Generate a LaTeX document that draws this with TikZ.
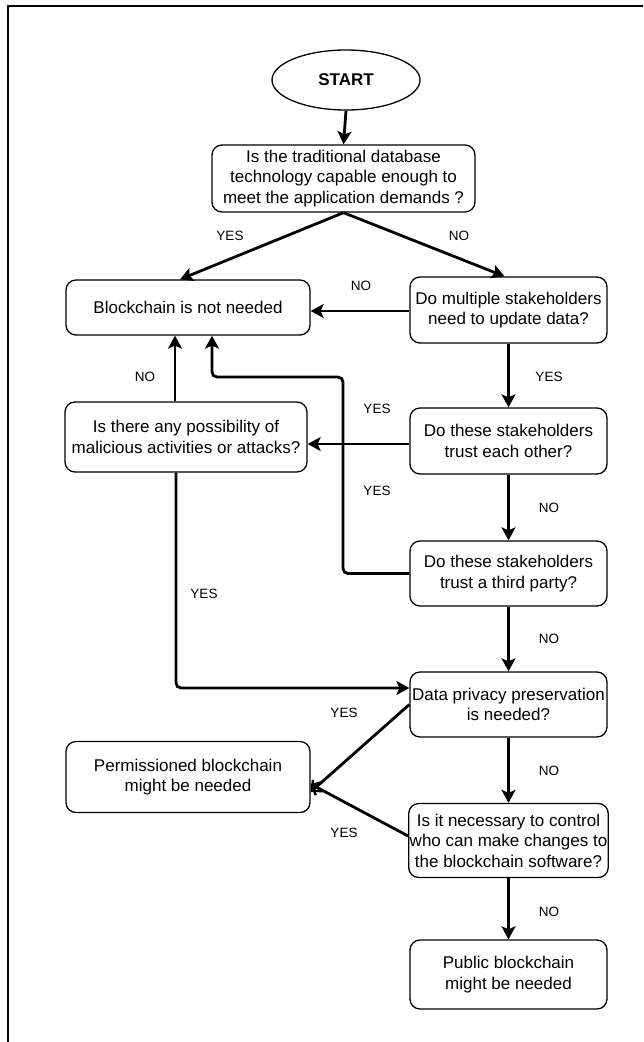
\documentclass[tikz,border=0pt]{standalone}
\usepackage{fontspec}
\setmainfont{Liberation Sans}
\usetikzlibrary{arrows.meta,shapes.geometric}

\tikzset{
  box/.style={draw, line width=1.3pt, rounded corners=10pt, align=center,
    inner sep=1pt, font=\fontsize{17}{20.5}\selectfont},
  startnode/.style={draw, ellipse, line width=1.3pt, inner sep=0pt,
    minimum width=148pt, minimum height=60pt,
    font=\fontsize{17}{20.5}\selectfont\bfseries},
  conn/.style={line width=2.8pt, -{Stealth[length=13pt,width=14pt,inset=3pt]}},
  barb/.style={line width=2.8pt, -{Straight Barb[length=8pt,width=15pt,line width=2.4pt]}},
  lbl/.style={font=\fontsize{13.5}{16}\selectfont, inner sep=0pt},
  frameline/.style={line width=2pt}
}

\begin{document}
\begin{tikzpicture}[x=1pt,y=-1pt]
  \useasboundingbox (0,0) rectangle (643,1042);

  % open frame: top and left edges only
  \coordinate (fa) at (643,6);
  \coordinate (fb) at (8,6);
  \coordinate (fc) at (8,1042);
  \draw[frameline] (fa) -- (fb) -- (fc);

  % nodes
  \node[startnode] (start) at (346,80) {START};
  \node[box, minimum width=263pt, minimum height=67pt] (q1) at (343.5,178.5)
    {Is the traditional database\\technology capable enough to\\meet the application demands ?};
  \node[box, minimum width=244pt, minimum height=55pt] (nn) at (188,307.5)
    {Blockchain is not needed};
  \node[box, minimum width=197pt, minimum height=66pt] (multi) at (508.5,310)
    {Do multiple stakeholders\\need to update data?};
  \node[box, minimum width=242pt, minimum height=70pt] (mal) at (186,437)
    {Is there any possibility of\\malicious activities or attacks?};
  \node[box, minimum width=197pt, minimum height=66pt] (trust) at (508.5,441)
    {Do these stakeholders\\trust each other?};
  \node[box, minimum width=197pt, minimum height=65pt] (third) at (508.5,573.5)
    {Do these stakeholders\\trust a third party?};
  \node[box, minimum width=197pt, minimum height=65pt] (priv) at (508.5,704.5)
    {Data privacy preservation\\is needed?};
  \node[box, minimum width=244pt, minimum height=71pt] (perm) at (188,777)
    {Permissioned blockchain\\might be needed};
  \node[box, minimum width=197pt, minimum height=74pt] (ctrl) at (508.5,840.5)
    {Is it necessary to control\\who can make changes to\\the blockchain software?};
  \node[box, minimum width=197pt, minimum height=69pt] (pub) at (508.5,974.5)
    {Public blockchain\\might be needed};

  % connectors
  \draw[conn] (start.south) -- (q1.north);
  \draw[conn] (q1.south) -- ([xshift=-8pt]nn.north);
  \draw[conn] (q1.south) -- ([xshift=-4pt]multi.north);
  \draw[conn] ([yshift=-1pt]multi.west) -- ([yshift=-1pt]multi.west -| nn.east);
  \draw[conn] (multi.south) -- (trust.north);
  \draw[conn] ([yshift=-3pt]trust.west) -- ([yshift=-3pt]trust.west -| mal.east);
  \draw[conn] ([xshift=-11pt]mal.north) -- ([xshift=-11pt]mal.north |- nn.south);
  \coordinate (tp1) at (343,573.5);
  \coordinate (tp2) at (343,377);
  \coordinate (tp3) at (212,377);
  \draw[conn, rounded corners=5pt] (third.west) -- (tp1) -- (tp2) -- (tp3) -- (tp3 |- nn.south);
  \draw[conn] (trust.south) -- (third.north);
  \coordinate (mp1) at (176,688);
  \draw[conn, rounded corners=5pt] ([xshift=-10pt]mal.south) -- (mp1) -- (mp1 -| priv.west);
  \draw[conn] (third.south) -- (priv.north);
  \draw[barb] (priv.west) -- ([yshift=-15pt]perm.east);
  \draw[conn] (priv.south) -- (ctrl.north);
  \draw[barb] ([yshift=4.5pt]ctrl.west) -- ([yshift=-7pt]perm.east);
  \draw[conn] (ctrl.south) -- (pub.north);

  % branch labels
  \node[lbl] (l1) at (230,236) {YES};
  \node[lbl] (l2) at (459,236) {NO};
  \node[lbl] (l3) at (361,286) {NO};
  \node[lbl] (l4) at (145,377) {NO};
  \node[lbl] (l5) at (549,377) {YES};
  \node[lbl] (l6) at (377,409) {YES};
  \node[lbl] (l7) at (377,491) {YES};
  \node[lbl] (l8) at (549,508) {NO};
  \node[lbl] (l9) at (204,594) {YES};
  \node[lbl] (l10) at (549,639) {NO};
  \node[lbl] (l11) at (344,713) {YES};
  \node[lbl] (l12) at (549,771) {NO};
  \node[lbl] (l13) at (344,833) {YES};
  \node[lbl] (l14) at (549,912) {NO};
\end{tikzpicture}
\end{document}
